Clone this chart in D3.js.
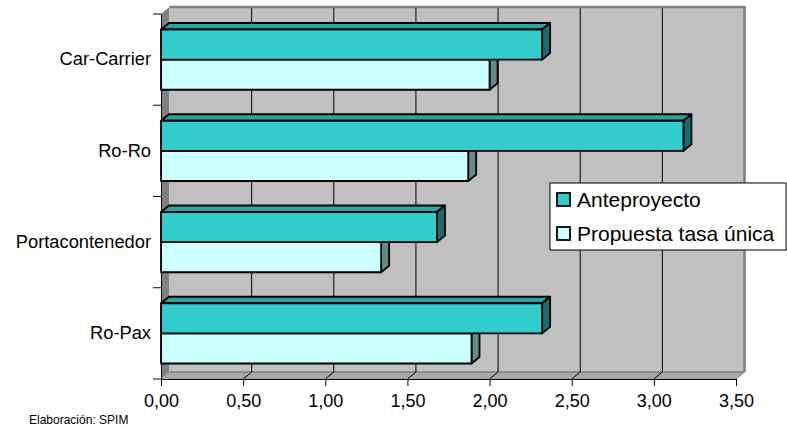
<!DOCTYPE html>
<html>
<head>
<meta charset="utf-8">
<script src="https://cdn.jsdelivr.net/npm/d3@7"></script>
<style>
  html, body { margin: 0; padding: 0; background: #ffffff; }
  svg { display: block; font-family: "Liberation Sans", Arial, sans-serif; }
</style>
</head>
<body>
<script>
// Categories (top to bottom) and the two series
const categories = ["Car-Carrier", "Ro-Ro", "Portacontenedor", "Ro-Pax"];
const seriesNames = ["Anteproyecto", "Propuesta tasa única"];
const anteproyecto = [2.32, 3.18, 1.68, 2.32];
const propuesta = [2.00, 1.87, 1.34, 1.89];
const xTickValues = [0, 0.5, 1, 1.5, 2, 2.5, 3, 3.5];
const footerText = "Elaboración: SPIM";

const seriesValues = { "Anteproyecto": anteproyecto, "Propuesta tasa única": propuesta };
const fillColor = { "Anteproyecto": "#33cccc", "Propuesta tasa única": "#ccffff" };
const topColor = { "Anteproyecto": "#29a3a3", "Propuesta tasa única": "#a3cccc" };
const sideColor = { "Anteproyecto": "#1d6b6b", "Propuesta tasa única": "#668a8a" };

const W = 787, H = 427;
const svg = d3.select("body").append("svg").attr("width", W).attr("height", H);

// Spanish number format: decimal comma
const esLocale = d3.formatLocale({ decimal: ",", thousands: ".", grouping: [3], currency: ["", " €"] });
const fmt = esLocale.format(".2f");

// Front-plane scales
const x = d3.scaleLinear().domain([0, 3.5]).range([161, 736]);
const y0 = d3.scaleBand().domain(categories).range([14, 379]).paddingInner(0.34).paddingOuter(0.17);
const y1 = d3.scaleBand().domain(seriesNames).range([0, y0.bandwidth()]);

// 3D depth offsets (walls and bars)
const wall = { dx: 8.5, dy: 7 };
const bar = { dx: 8, dy: 6.5 };

const [xMin, xMax] = x.range();
const [yTop, yBot] = y0.range();

const pts = a => a.map(p => p.join(",")).join(" ");

// Left side wall
svg.append("polygon")
  .attr("points", pts([[xMin, yTop], [xMin + wall.dx, yTop - wall.dy], [xMin + wall.dx, yBot - wall.dy], [xMin, yBot]]))
  .attr("fill", "#808080");

// Back wall
svg.append("rect")
  .attr("x", xMin + wall.dx).attr("y", yTop - wall.dy)
  .attr("width", xMax - xMin).attr("height", yBot - yTop)
  .attr("fill", "#c0c0c0");

// Floor
svg.append("polygon")
  .attr("points", pts([[xMin, yBot], [xMin + wall.dx, yBot - wall.dy], [xMax + wall.dx, yBot - wall.dy], [xMax, yBot]]))
  .attr("fill", "#a6a6a6");
svg.append("line")
  .attr("x1", xMin + wall.dx).attr("x2", xMax + wall.dx)
  .attr("y1", yBot - wall.dy).attr("y2", yBot - wall.dy)
  .attr("stroke", "#808080").attr("stroke-width", 1.5);

// Gridlines on the back wall and across the floor
const inner = xTickValues.filter(v => v > 0 && v < 3.5);
svg.append("g").selectAll("line").data(inner).join("line")
  .attr("x1", d => x(d) + wall.dx).attr("x2", d => x(d) + wall.dx)
  .attr("y1", yTop - wall.dy).attr("y2", yBot - wall.dy)
  .attr("stroke", "#000").attr("stroke-width", 1);
svg.append("g").selectAll("line").data(xTickValues.filter(v => v > 0)).join("line")
  .attr("x1", d => x(d)).attr("x2", d => x(d) + wall.dx)
  .attr("y1", yBot).attr("y2", yBot - wall.dy)
  .attr("stroke", d => d < 3.5 ? "#000" : "#808080").attr("stroke-width", 1);

// Wall top and right border
svg.append("polyline")
  .attr("points", pts([[xMin + wall.dx, yTop - wall.dy], [xMax + wall.dx, yTop - wall.dy], [xMax + wall.dx, yBot - wall.dy]]))
  .attr("fill", "none").attr("stroke", "#808080").attr("stroke-width", 2.5);

// Bars (lower series first so the upper bar covers its top face)
const barG = svg.append("g");
categories.forEach((c, i) => {
  seriesNames.slice().reverse().forEach(s => {
    const v = seriesValues[s][i];
    const x0 = x(0), x1 = x(v);
    const t = y0(c) + y1(s), h = y1.bandwidth();
    const g = barG.append("g")
      .attr("stroke", "#000").attr("stroke-width", 1.8).attr("stroke-linejoin", "round");
    g.append("polygon")
      .attr("points", pts([[x0, t], [x0 + bar.dx, t - bar.dy], [x1 + bar.dx, t - bar.dy], [x1, t]]))
      .attr("fill", topColor[s]);
    g.append("polygon")
      .attr("points", pts([[x1, t], [x1 + bar.dx, t - bar.dy], [x1 + bar.dx, t + h - bar.dy], [x1, t + h]]))
      .attr("fill", sideColor[s]);
    g.append("rect")
      .attr("x", x0).attr("y", t).attr("width", x1 - x0).attr("height", h)
      .attr("fill", fillColor[s]);
  });
});

// X axis
const xAxis = svg.append("g")
  .attr("transform", `translate(0,${yBot})`)
  .call(d3.axisBottom(x).tickValues(xTickValues).tickFormat(fmt).tickSize(7).tickSizeOuter(0).tickPadding(8));
xAxis.selectAll("text").attr("font-size", 18).attr("fill", "#000").attr("font-family", "Liberation Sans, Arial, sans-serif");
xAxis.selectAll("line, path").attr("stroke", "#000");

// Y axis: category labels centred on bands, ticks on band boundaries
const yAxis = svg.append("g")
  .attr("transform", `translate(${xMin},0)`)
  .call(d3.axisLeft(y0).tickSize(0).tickPadding(10).tickSizeOuter(0));
yAxis.selectAll("text").attr("font-size", 18.3).attr("fill", "#000").attr("font-family", "Liberation Sans, Arial, sans-serif");
yAxis.select("path").attr("stroke", "#000");
const boundaries = d3.range(categories.length + 1).map(k => yTop + k * y0.step());
yAxis.append("g").selectAll("line").data(boundaries).join("line")
  .attr("x1", -8).attr("x2", 0).attr("y1", d => d).attr("y2", d => d)
  .attr("stroke", "#000");

// Legend
const lg = svg.append("g").attr("transform", "translate(550,183)");
lg.append("rect").attr("width", 236).attr("height", 67).attr("fill", "#fff").attr("stroke", "#000").attr("stroke-width", 1);
seriesNames.forEach((s, k) => {
  const row = lg.append("g").attr("transform", `translate(7,${10 + k * 34})`);
  row.append("rect").attr("width", 13).attr("height", 13)
    .attr("fill", fillColor[s]).attr("stroke", "#000").attr("stroke-width", 1.8);
  row.append("text").attr("x", 20).attr("y", 14)
    .attr("font-size", 21).attr("fill", "#000").text(s);
});

// Source note
svg.append("text").attr("x", 29).attr("y", 424)
  .attr("font-size", 12).attr("fill", "#000").text(footerText);
</script>
</body>
</html>
